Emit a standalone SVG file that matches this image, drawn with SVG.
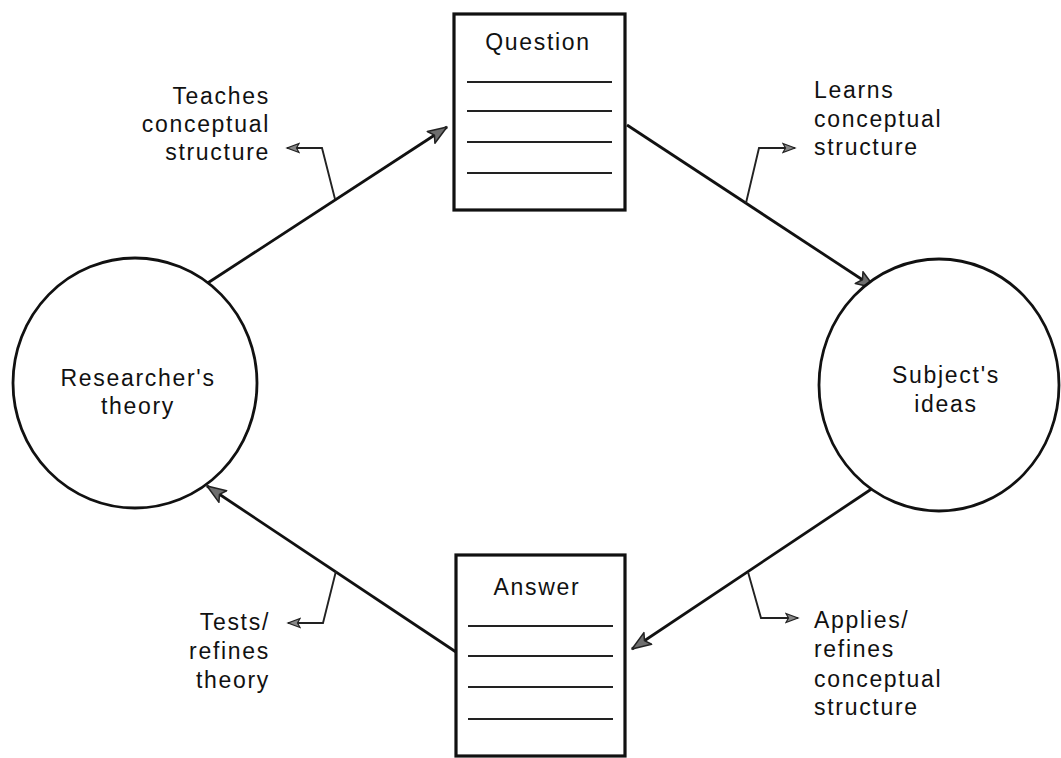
<svg xmlns="http://www.w3.org/2000/svg" width="1061" height="758" viewBox="0 0 1061 758">
<defs>
<style>
.t{font-family:"Liberation Sans",Arial,sans-serif;font-size:23px;fill:#111;letter-spacing:1.7px}
.node{fill:#fff;stroke:#111;stroke-width:2.8}
.box{fill:#fff;stroke:#111;stroke-width:3.2}
.rule{stroke:#222;stroke-width:2.1}
.edge{stroke:#111;stroke-width:2.8;fill:none}
.lead{stroke:#222;stroke-width:1.9;fill:none}
</style>
<marker id="big" markerUnits="userSpaceOnUse" markerWidth="24" markerHeight="18" refX="20" refY="8" orient="auto">
<path d="M1,1 L20,8 L1,15 L5,8 Z" fill="#6e6e6e" stroke="#222" stroke-width="1.5" stroke-linejoin="round"/>
</marker>
<marker id="small" markerUnits="userSpaceOnUse" markerWidth="16" markerHeight="12" refX="13" refY="6" orient="auto">
<path d="M1,1.5 L13,6 L1,10.5 L3.5,6 Z" fill="#888" stroke="#222" stroke-width="1.2"/>
</marker>
</defs>
<rect width="1061" height="758" fill="#fff"/>

<g id="connectors">
<line class="edge" x1="200" y1="288" x2="447" y2="127" marker-end="url(#big)"/>
<line class="edge" x1="627" y1="125" x2="875" y2="288" marker-end="url(#big)"/>
<line class="edge" x1="873" y1="488" x2="632" y2="649" marker-end="url(#big)"/>
<line class="edge" x1="456" y1="652" x2="207" y2="486" marker-end="url(#big)"/>
<polyline class="lead" points="335,199 322,148 287,148" marker-end="url(#small)"/>
<polyline class="lead" points="746,203 759,148 795,148" marker-end="url(#small)"/>
<polyline class="lead" points="748,572 761,618 798,618" marker-end="url(#small)"/>
<polyline class="lead" points="336,571 323,623 288,623" marker-end="url(#small)"/>
</g>

<g id="researcher">
<ellipse class="node" cx="135" cy="383" rx="122" ry="125"/>
<text class="t" x="138" y="386" text-anchor="middle">Researcher's</text>
<text class="t" x="138" y="414" text-anchor="middle">theory</text>
</g>

<g id="subject">
<ellipse class="node" cx="939" cy="385" rx="120" ry="126"/>
<text class="t" x="946" y="383" text-anchor="middle">Subject's</text>
<text class="t" x="946" y="412" text-anchor="middle">ideas</text>
</g>

<g id="question">
<rect class="box" x="454" y="14" width="171" height="196"/>
<text class="t" x="538" y="50" text-anchor="middle">Question</text>
<line class="rule" x1="467" y1="82" x2="612" y2="82"/>
<line class="rule" x1="467" y1="111" x2="612" y2="111"/>
<line class="rule" x1="467" y1="142" x2="612" y2="142"/>
<line class="rule" x1="467" y1="173" x2="612" y2="173"/>
</g>

<g id="answer">
<rect class="box" x="456" y="555" width="169" height="201"/>
<text class="t" x="537" y="595" text-anchor="middle">Answer</text>
<line class="rule" x1="468" y1="626" x2="613" y2="626"/>
<line class="rule" x1="468" y1="656" x2="613" y2="656"/>
<line class="rule" x1="468" y1="687" x2="613" y2="687"/>
<line class="rule" x1="468" y1="719" x2="613" y2="719"/>
</g>

<g id="label-teaches">
<text class="t" x="270" y="104" text-anchor="end">Teaches</text>
<text class="t" x="270" y="132" text-anchor="end">conceptual</text>
<text class="t" x="270" y="160" text-anchor="end">structure</text>
</g>

<g id="label-learns">
<text class="t" x="814" y="98">Learns</text>
<text class="t" x="814" y="127">conceptual</text>
<text class="t" x="814" y="155">structure</text>
</g>

<g id="label-applies">
<text class="t" x="814" y="628">Applies/</text>
<text class="t" x="814" y="657">refines</text>
<text class="t" x="814" y="687">conceptual</text>
<text class="t" x="814" y="715">structure</text>
</g>

<g id="label-tests">
<text class="t" x="270" y="630" text-anchor="end">Tests/</text>
<text class="t" x="270" y="659" text-anchor="end">refines</text>
<text class="t" x="270" y="688" text-anchor="end">theory</text>
</g>
</svg>
